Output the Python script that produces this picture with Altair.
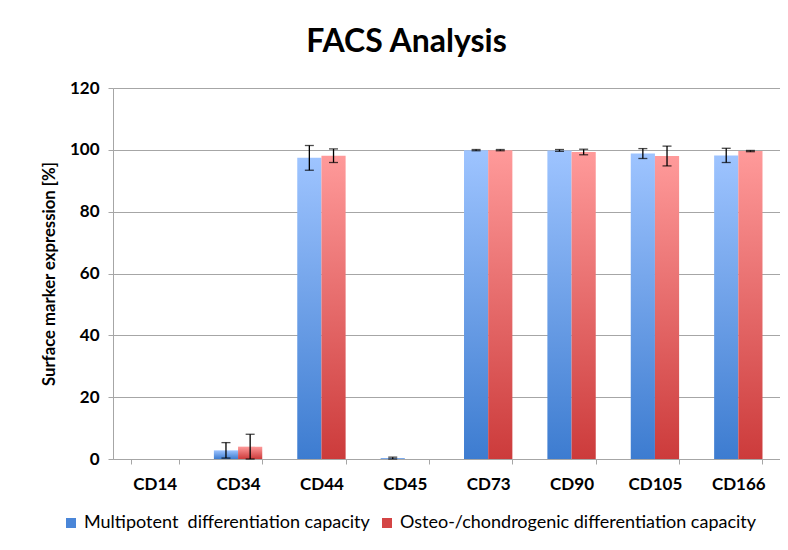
import altair as alt
import pandas as pd

markers = ["CD14", "CD34", "CD44", "CD45", "CD73", "CD90", "CD105", "CD166"]
series = ["Multipotent\u00a0 differentiation capacity", "Osteo-/chondrogenic differentiation capacity"]
multi = [0, 2.8, 97.4, 0.3, 99.9, 99.8, 98.8, 98.2]
multi_err = [0, 2.5, 4.0, 0.3, 0.2, 0.3, 1.6, 2.3]
osteo = [0, 4.0, 98.1, 0, 99.9, 99.3, 98.0, 99.6]
osteo_err = [0, 4.0, 2.2, 0, 0.2, 0.9, 3.2, 0.2]

rows = []
for i, m in enumerate(markers):
    rows.append({"marker": m, "series": series[0], "value": multi[i], "err": multi_err[i]})
    rows.append({"marker": m, "series": series[1], "value": osteo[i], "err": osteo_err[i]})
df = pd.DataFrame(rows)
df["lo"] = (df["value"] - df["err"]).clip(lower=0)
df["hi"] = df["value"] + df["err"]

FONT = "Lato"
GRID = "#a6a6a6"

x_enc = alt.X("marker:N", sort=markers,
              scale=alt.Scale(paddingInner=0.42, paddingOuter=0.21),
              axis=alt.Axis(title=None, labelAngle=0, labelFont=FONT, labelFontSize=17,
                            labelFontWeight="bold", labelColor="#000000", labelPadding=12,
                            tickBand="extent", tickSize=5, tickColor=GRID, domainColor=GRID,
                            grid=False))
xo_enc = alt.XOffset("series:N", sort=series, scale=alt.Scale(domain=series))
y_scale = alt.Scale(domain=[0, 120], nice=False)
y_enc = alt.Y("value:Q", scale=y_scale,
              axis=alt.Axis(title="Surface marker expression [%]", values=[0, 20, 40, 60, 80, 100, 120],
                            labelFont=FONT, labelFontSize=17, labelFontWeight="bold",
                            labelColor="#000000", labelPadding=9, tickSize=5, tickColor=GRID,
                            domainColor=GRID, gridColor=GRID, gridWidth=1,
                            titleFont=FONT, titleFontSize=16.7, titleFontWeight="bold",
                            titleColor="#000000", titlePadding=11))

blue_grad = alt.Gradient(gradient="linear", x1=0, y1=0, x2=0, y2=1,
                         stops=[alt.GradientStop(offset=0, color="#9ec4ff"),
                                alt.GradientStop(offset=1, color="#3d7cd0")])
red_grad = alt.Gradient(gradient="linear", x1=0, y1=0, x2=0, y2=1,
                        stops=[alt.GradientStop(offset=0, color="#ff9a9a"),
                               alt.GradientStop(offset=1, color="#cc3b3b")])

base = alt.Chart(df)

blue = base.transform_filter(alt.datum.series == series[0]).mark_bar(color=blue_grad).encode(
    x=x_enc, xOffset=xo_enc, y=y_enc)
red = base.transform_filter(alt.datum.series == series[1]).mark_bar(color=red_grad).encode(
    x=x_enc, xOffset=xo_enc, y=y_enc)

legend_layer = base.mark_bar().encode(
    y=alt.Y("zero:Q", scale=y_scale),
    color=alt.Color("series:N", sort=series,
                    scale=alt.Scale(domain=series, range=["#4a86d8", "#d44545"]),
                    legend=alt.Legend(title=None, orient="none", direction="horizontal",
                                      legendX=-51, legendY=426, symbolType="square",
                                      symbolSize=100, symbolStrokeWidth=0, labelLimit=1000,
                                      labelFont=FONT, labelFontSize=18, labelColor="#000000",
                                      columnPadding=8, labelOffset=4))
).transform_calculate(zero="0")

err_f = base.transform_filter(alt.datum.err > 0)
rule = err_f.mark_rule(color="#000000", strokeWidth=1.3).encode(
    x=x_enc, xOffset=xo_enc, y=alt.Y("lo:Q", scale=y_scale), y2="hi:Q")
cap_hi = err_f.mark_tick(color="#000000", size=9, thickness=1.3).encode(
    x=x_enc, xOffset=xo_enc, y=alt.Y("hi:Q", scale=y_scale))
cap_lo = err_f.mark_tick(color="#000000", size=9, thickness=1.3).encode(
    x=x_enc, xOffset=xo_enc, y=alt.Y("lo:Q", scale=y_scale))

chart = alt.layer(blue, red, legend_layer, rule, cap_hi, cap_lo).properties(
    width=667, height=371,
    title=alt.TitleParams("FACS Analysis", font=FONT, fontSize=32, fontWeight="bold",
                          color="#000000", anchor="middle", dx=-40, offset=20),
    autosize=alt.AutoSizeParams(type="none"),
    padding={"left": 105, "top": 80, "right": 0, "bottom": 86},
).configure_view(strokeWidth=0).configure(background="#ffffff")

chart.save("out.html", embed_options={"renderer": "svg", "actions": False})
